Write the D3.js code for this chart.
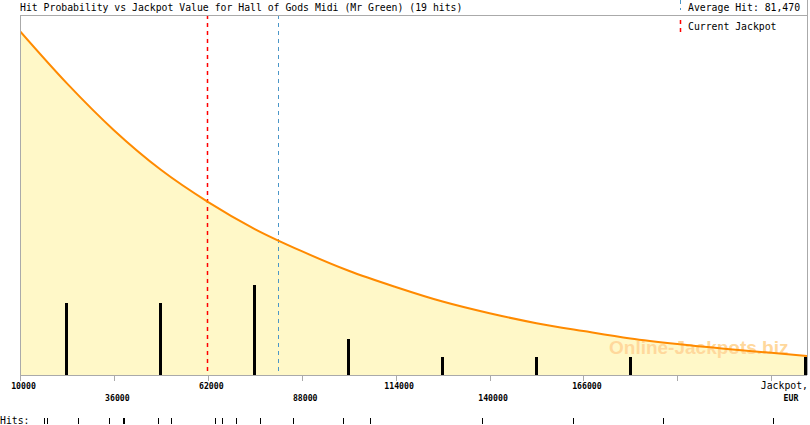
<!DOCTYPE html>
<html>
<head>
<meta charset="utf-8">
<script src="https://cdn.jsdelivr.net/npm/d3@7"></script>
<style>
    body { margin: 0; background: #fff; }
    svg { display: block; }
    .mono { font-family: "DejaVu Sans Mono", monospace; }
</style>
</head>
<body>
<svg id="chart" width="810" height="425"></svg>
<script>
// jackpot values the curve was read at (EUR)
const curve_jackpot = [10000, 23000, 36000, 49000, 62000, 75000, 88000, 101000, 114000,
    127000, 140000, 153000, 166000, 179000, 192000, 205000, 218000, 227900]
// expected hits at those values (same units as the bars)
const curve_hits = [19.1, 16.2, 13.6, 11.4, 9.62, 8.11, 6.88, 5.79, 4.89,
    4.08, 3.43, 2.88, 2.44, 2.03, 1.72, 1.46, 1.23, 1.06]

// jackpot value of every recorded hit
const hit_values = [16700, 17600, 26000, 34600, 38400, 38700, 48100, 51900, 64100, 66000,
    69700, 76500, 85700, 99400, 106900, 137800, 163000, 188100, 218600]

const tick_values = [10000, 36000, 62000, 88000, 114000, 140000, 166000, 192000, 218000]
const tick_labels = ['10000', '36000', '62000', '88000', '114000', '140000', '166000', '', '']

const current_jackpot = 61850
const average_hit = 81470
const game_name = 'Hall of Gods Midi (Mr Green)'

const make_chart = () => {

    const svg = d3.select('#chart')
    const margin = ({ top: 15, right: 3, bottom: 50, left: 20 })
    const width = +svg.attr('width')
    const height = +svg.attr('height')

    const x = d3.scaleLinear()
        .domain([10000, 227900])
        .range([margin.left, width - margin.right])
    const y = d3.scaleLinear()
        .domain([0, 20])
        .range([height - margin.bottom, margin.top])

    const crisp = v => Math.round(v) + 0.5

    const curve_data = curve_jackpot.map((d, i) => ({ jackpot: d, hits: curve_hits[i] }))

    // histogram of the hits, one bin per tick step
    const bins = d3.bin()
        .domain([10000, 244000])
        .thresholds(d3.range(36000, 244000, 26000))(hit_values)
        .filter(b => b.length > 0)

    svg.append('defs').append('clipPath')
        .attr('id', 'plot-clip')
        .append('rect')
        .attr('x', margin.left)
        .attr('y', margin.top)
        .attr('width', width - margin.left - margin.right)
        .attr('height', height - margin.top - margin.bottom)

    const plot = svg.append('g').attr('clip-path', 'url(#plot-clip)')

    const area = d3.area()
        .x(d => x(d.jackpot))
        .y0(y(0))
        .y1(d => y(d.hits))
        .curve(d3.curveMonotoneX)
    const line = d3.line()
        .x(d => x(d.jackpot))
        .y(d => y(d.hits))
        .curve(d3.curveMonotoneX)

    plot.append('path')
        .datum(curve_data)
        .attr('fill', '#fff8c8')
        .attr('d', area)

    plot.append('text')
        .attr('x', 609)
        .attr('y', 354)
        .attr('font-family', '"Liberation Sans", Arial, sans-serif')
        .attr('font-weight', 'bold')
        .attr('font-size', 19)
        .attr('fill', '#ffd89c')
        .text('Online-Jackpots.biz')

    // bars, the last bin sits past the right edge so pin it there
    plot.selectAll('rect.bar')
        .data(bins)
        .join('rect')
        .attr('class', 'bar')
        .attr('x', d => Math.round(Math.min(x((d.x0 + d.x1) / 2), width - margin.right - 1.5) - 1.5))
        .attr('y', d => y(d.length))
        .attr('width', 3)
        .attr('height', d => y(0) - y(d.length))
        .attr('fill', '#000')
        .attr('shape-rendering', 'crispEdges')

    plot.append('line')
        .attr('x1', crisp(x(current_jackpot))).attr('x2', crisp(x(current_jackpot)))
        .attr('y1', margin.top).attr('y2', y(0))
        .attr('stroke', '#ff0000')
        .attr('stroke-width', 1.5)
        .attr('stroke-dasharray', '4,4')
    plot.append('line')
        .attr('x1', crisp(x(average_hit))).attr('x2', crisp(x(average_hit)))
        .attr('y1', margin.top).attr('y2', y(0))
        .attr('stroke', '#4a96c8')
        .attr('stroke-dasharray', '4,4')
        .attr('shape-rendering', 'crispEdges')

    plot.append('path')
        .datum(curve_data)
        .attr('fill', 'none')
        .attr('stroke', '#ff8a00')
        .attr('stroke-width', 2)
        .attr('d', line)

    // frame
    const frame = svg.append('g')
        .attr('stroke', '#aaa')
        .attr('fill', 'none')
        .attr('shape-rendering', 'crispEdges')
    frame.append('path')
        .attr('d', `M${margin.left},${y(0)}V${margin.top}H${width - margin.right}`)
    frame.append('path')
        .attr('d', `M${width - margin.right},0V${y(0)}`)
    frame.append('path')
        .attr('d', `M${margin.left},${y(0)}H${width - margin.right}`)

    const xAxis = g => g
        .attr('transform', `translate(0,${y(0)})`)
        .call(d3.axisBottom(x).tickValues(tick_values).tickSize(6).tickFormat(''))
        .call(g => g.select('.domain').remove())
        .call(g => g.selectAll('.tick line').attr('stroke', '#aaa').attr('shape-rendering', 'crispEdges'))
    svg.append('g').call(xAxis)

    svg.append('g')
        .selectAll('text')
        .data(tick_values)
        .join('text')
        .attr('class', 'mono')
        .attr('x', d => x(d) + 3.5)
        .attr('y', (d, i) => i % 2 === 0 ? 388.5 : 401)
        .attr('text-anchor', 'middle')
        .attr('font-size', 8.2)
        .attr('font-weight', 'bold')
        .text((d, i) => tick_labels[i])

    svg.append('text')
        .attr('class', 'mono')
        .attr('x', 808)
        .attr('y', 389)
        .attr('text-anchor', 'end')
        .attr('font-size', 9.8)
        .text('Jackpot,')
    svg.append('text')
        .attr('class', 'mono')
        .attr('x', 791)
        .attr('y', 401)
        .attr('text-anchor', 'middle')
        .attr('font-size', 8.2)
        .attr('font-weight', 'bold')
        .text('EUR')

    // individual hits strip
    svg.append('text')
        .attr('class', 'mono')
        .attr('x', 0)
        .attr('y', 424)
        .attr('font-size', 9.8)
        .text('Hits:')
    svg.append('g')
        .selectAll('line')
        .data(hit_values)
        .join('line')
        .attr('x1', d => crisp(x(d)))
        .attr('x2', d => crisp(x(d)))
        .attr('y1', 418)
        .attr('y2', 424)
        .attr('stroke', '#000')
        .attr('shape-rendering', 'crispEdges')

    // title and legend
    svg.append('text')
        .attr('class', 'mono')
        .attr('x', 20)
        .attr('y', 10.5)
        .attr('font-size', 9.8)
        .text(`Hit Probability vs Jackpot Value for ${game_name} (${hit_values.length} hits)`)

    svg.append('line')
        .attr('x1', 680.5).attr('x2', 680.5)
        .attr('y1', 0).attr('y2', 10)
        .attr('stroke', '#4a96c8')
        .attr('stroke-dasharray', '4,4')
        .attr('shape-rendering', 'crispEdges')
    svg.append('text')
        .attr('class', 'mono')
        .attr('x', 688)
        .attr('y', 10.5)
        .attr('font-size', 9.8)
        .text(`Average Hit: ${d3.format(',')(average_hit)}`)

    svg.append('line')
        .attr('x1', 680.5).attr('x2', 680.5)
        .attr('y1', 20).attr('y2', 33)
        .attr('stroke', '#ff0000')
        .attr('stroke-width', 1.5)
        .attr('stroke-dasharray', '4,4')
    svg.append('text')
        .attr('class', 'mono')
        .attr('x', 688)
        .attr('y', 29.5)
        .attr('font-size', 9.8)
        .text('Current Jackpot')
}

make_chart()
</script>
</body>
</html>
